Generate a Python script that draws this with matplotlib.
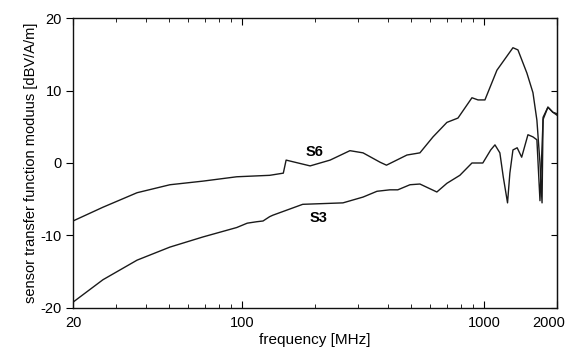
import matplotlib
matplotlib.use("Agg")
import matplotlib.pyplot as plt
import matplotlib.transforms as mtransforms
from matplotlib.ticker import FixedLocator, NullFormatter, FixedFormatter

plt.rcParams['font.family'] = ['Liberation Sans', 'DejaVu Sans']
plt.rcParams['axes.unicode_minus'] = False

# S6 sensor
s6_freq = [20, 26.6, 36.8, 50.3, 68.9, 95, 130, 148, 152, 191, 231, 279, 316, 372, 395,
           480, 543, 615, 702, 780, 891, 944, 1008, 1130, 1316, 1380, 1503, 1592, 1653,
           1702, 1736, 1753, 1836, 1924, 2000]
s6_val = [-8.0, -6.1, -4.1, -3.0, -2.5, -1.9, -1.7, -1.4, 0.4, -0.4, 0.4, 1.7, 1.4, 0.1, -0.3,
          1.1, 1.4, 3.6, 5.6, 6.2, 9.0, 8.7, 8.7, 12.8, 15.9, 15.6, 12.4, 9.7, 5.9,
          0.0, -5.5, 6.3, 7.7, 7.0, 6.6]

# S3 sensor
s3_freq = [20, 26.6, 36.8, 50.3, 68.9, 95, 105, 115, 122, 130, 134, 178, 261, 316, 361,
           408, 440, 494, 543, 638, 702, 794, 891, 988, 1065, 1109, 1162, 1200, 1250, 1278,
           1316, 1370, 1430, 1518, 1592, 1653, 1702, 1753, 1836, 1924, 2000]
s3_val = [-19.2, -16.1, -13.4, -11.6, -10.2, -8.9, -8.3, -8.1, -8.0, -7.4, -7.2, -5.7, -5.5, -4.7, -3.9,
          -3.7, -3.7, -3.0, -2.9, -4.0, -2.8, -1.7, 0.0, 0.0, 1.8, 2.5, 1.4, -1.9, -5.5, -1.4,
          1.8, 2.1, 0.8, 3.9, 3.6, 3.2, -5.2, 6.0, 7.7, 7.0, 6.8]

x_ticks = [20, 100, 1000, 2000]
x_ticklabels = ["20", "100", "1000", "2000"]
y_ticks = [-20, -10, 0, 10, 20]
labels = ["S6", "S3"]

fig = plt.figure(figsize=(5.68, 3.53), dpi=100)
ax = fig.add_axes([0.1285, 0.1275, 0.852, 0.8215])

ax.plot(s6_freq, s6_val, color='#1a1a1a', lw=1.0)
ax.plot(s3_freq, s3_val, color='#1a1a1a', lw=1.0)

ax.set_xscale('log')
ax.set_xlim(20, 2000)
ax.set_ylim(-20, 20)
ax.xaxis.set_major_locator(FixedLocator(x_ticks))
ax.xaxis.set_major_formatter(FixedFormatter(x_ticklabels))
ax.xaxis.set_minor_locator(FixedLocator([30, 40, 50, 60, 70, 80, 90, 200, 300, 400, 500, 600, 700, 800, 900]))
ax.xaxis.set_minor_formatter(NullFormatter())
ax.set_yticks(y_ticks)

ax.tick_params(axis='x', which='both', direction='in', top=True, bottom=True, labelsize=10.5, pad=6)
ax.tick_params(axis='x', which='major', length=5)
ax.tick_params(axis='x', which='minor', length=3)
ax.tick_params(axis='y', which='major', direction='out', left=True, right=False, length=5, labelsize=10.5, pad=3)

sec = ax.secondary_yaxis('right')
sec.set_yticks(y_ticks)
sec.tick_params(direction='in', length=4, labelright=False)

for s in ax.spines.values():
    s.set_linewidth(1.0)
    s.set_color('#111111')

ax.set_xlabel("frequency [MHz]", fontsize=11, labelpad=2)
ax.set_ylabel("sensor transfer function moduus [dBV/A/m]", fontsize=10.5, labelpad=2)

# shift the last x tick label a little left so it stays inside the figure
fig.canvas.draw()
last = ax.get_xticklabels()[-1]
last.set_transform(last.get_transform() + mtransforms.ScaledTranslation(-8 / 100, 0, fig.dpi_scale_trans))

ax.text(200, 1.5, labels[0], fontsize=10.5, fontweight='bold', ha='center', va='center')
ax.text(207, -7.6, labels[1], fontsize=10.5, fontweight='bold', ha='center', va='center')

fig.savefig("out.png", dpi=100)
